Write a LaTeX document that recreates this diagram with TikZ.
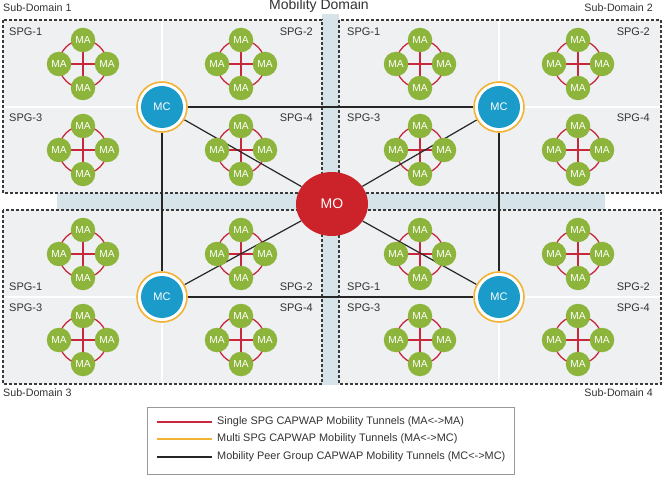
\documentclass[tikz,border=0pt]{standalone}
\usepackage{fontspec}
\setmainfont{Liberation Sans}
\usetikzlibrary{shapes.geometric}
\definecolor{magreen}{HTML}{8DB53C}
\definecolor{tunred}{HTML}{C8283C}
\definecolor{mcblue}{HTML}{1A9BC9}
\definecolor{ringorange}{HTML}{F2B234}
\definecolor{mored}{HTML}{CC2229}
\definecolor{sdgray}{HTML}{EEF0F2}
\definecolor{bandblue}{HTML}{D6E3E8}
\definecolor{txtgray}{HTML}{333333}
\definecolor{dashgray}{HTML}{3A3A3A}
\pgfdeclarelayer{back}
\pgfdeclarelayer{redl}
\pgfdeclarelayer{blackl}
\pgfsetlayers{back,redl,blackl,main}
\newcommand{\macl}[3]{%
  \coordinate (#1c) at ({#2},{#3});
  \node[ma] (#1t) at ({#2},{#3-24}) {MA};
  \node[ma] (#1l) at ({#2-24},{#3}) {MA};
  \node[ma] (#1b) at ({#2},{#3+24}) {MA};
  \node[ma] (#1r) at ({#2+24},{#3}) {MA};
  \begin{pgfonlayer}{redl}
    \draw[redtun] (#1t) -- (#1b);
    \draw[redtun] (#1l) -- (#1r);
    \draw[redtun] (#1c) circle (24pt);
  \end{pgfonlayer}}
\begin{document}
\begin{tikzpicture}[x=1pt,y=-1pt,
  ma/.style={circle,fill=magreen,minimum size=24.5pt,inner sep=0pt,text=white,font=\fontsize{10.2}{10}\selectfont},
  mc/.style={circle,minimum size=50pt,inner sep=0pt,draw=ringorange,line width=1.6pt,fill=white,text=white,
    font=\fontsize{11}{11}\selectfont,
    path picture={\fill[mcblue] (path picture bounding box.center) circle (21pt);}},
  mo/.style={ellipse,fill=mored,minimum width=72pt,minimum height=64pt,inner sep=0pt,text=white,font=\fontsize{14}{14}\selectfont},
  redtun/.style={draw=tunred,line width=1.3pt},
  blacktun/.style={draw=black!85,line width=1.2pt},
  sdbox/.style={fill=sdgray,draw=dashgray,line width=1.3pt,dash pattern=on 3pt off 2pt},
  divider/.style={draw=white,line width=1.5pt},
  spg/.style={text=txtgray,font=\fontsize{11}{11}\selectfont,inner sep=0pt},
  sdlabel/.style={text=txtgray,font=\fontsize{10.7}{10.7}\selectfont,inner sep=0pt},
  legtext/.style={text=txtgray,font=\fontsize{10.9}{10.9}\selectfont,inner sep=0pt,anchor=west}
]
\useasboundingbox (0,0) rectangle (666,486);

\begin{pgfonlayer}{back}
  \fill[white] (0,0) rectangle (666,486);
  % blue cross bands
  \fill[bandblue] (57,193) rectangle (605,210);
  \fill[bandblue] (322,14) rectangle (339,385);
  % sub-domain boxes
  \path[sdbox] (3,20) rectangle (322,193);
  \path[sdbox] (339,20) rectangle (661,193);
  \path[sdbox] (3,210) rectangle (322,384);
  \path[sdbox] (339,210) rectangle (661,384);
  % SPG dividers
  \draw[divider] (4,107) -- (321,107);
  \draw[divider] (162,21) -- (162,192);
  \draw[divider] (340,107) -- (660,107);
  \draw[divider] (499,21) -- (499,192);
  \draw[divider] (4,297) -- (321,297);
  \draw[divider] (162,211) -- (162,383);
  \draw[divider] (340,297) -- (660,297);
  \draw[divider] (499,211) -- (499,383);
\end{pgfonlayer}

% titles
\node[text=txtgray,font=\fontsize{14}{14}\selectfont,inner sep=0pt] (title) at (319,6) {Mobility Domain};
\node[sdlabel,anchor=west] (sd1) at (3,8) {Sub-Domain 1};
\node[sdlabel,anchor=east] (sd2) at (653,8) {Sub-Domain 2};
\node[sdlabel,anchor=west] (sd3) at (3,393) {Sub-Domain 3};
\node[sdlabel,anchor=east] (sd4) at (653,393) {Sub-Domain 4};

% SPG labels
\node[spg,anchor=west] (a1) at (9,32) {SPG-1};
\node[spg,anchor=east] (a2) at (313,32) {SPG-2};
\node[spg,anchor=west] (a3) at (9,118) {SPG-3};
\node[spg,anchor=east] (a4) at (313,118) {SPG-4};
\node[spg,anchor=west] (b1) at (347,32) {SPG-1};
\node[spg,anchor=east] (b2) at (650,32) {SPG-2};
\node[spg,anchor=west] (b3) at (347,118) {SPG-3};
\node[spg,anchor=east] (b4) at (650,118) {SPG-4};
\node[spg,anchor=west] (c1) at (9,287) {SPG-1};
\node[spg,anchor=east] (c2) at (313,287) {SPG-2};
\node[spg,anchor=west] (c3) at (9,308) {SPG-3};
\node[spg,anchor=east] (c4) at (313,308) {SPG-4};
\node[spg,anchor=west] (d1) at (347,287) {SPG-1};
\node[spg,anchor=east] (d2) at (650,287) {SPG-2};
\node[spg,anchor=west] (d3) at (347,308) {SPG-3};
\node[spg,anchor=east] (d4) at (650,308) {SPG-4};

% MA clusters
\macl{aA}{83}{64}
\macl{aB}{241}{64}
\macl{aC}{83}{150}
\macl{aD}{241}{150}
\macl{bA}{420}{64}
\macl{bB}{578}{64}
\macl{bC}{420}{150}
\macl{bD}{578}{150}
\macl{cA}{83}{254}
\macl{cB}{241}{254}
\macl{cC}{83}{340}
\macl{cD}{241}{340}
\macl{dA}{420}{254}
\macl{dB}{578}{254}
\macl{dC}{420}{340}
\macl{dD}{578}{340}

% controllers and oracle
\node[mc] (mc1) at (162,107) {MC};
\node[mc] (mc2) at (499,107) {MC};
\node[mc] (mc3) at (162,297) {MC};
\node[mc] (mc4) at (499,297) {MC};
\node[mo] (mo) at (332,204) {MO};

\begin{pgfonlayer}{blackl}
  \draw[blacktun] (mc1) -- (mc2);
  \draw[blacktun] (mc3) -- (mc4);
  \draw[blacktun] (mc1) -- (mc3);
  \draw[blacktun] (mc2) -- (mc4);
  \draw[blacktun] (mc1) -- (mo);
  \draw[blacktun] (mc2) -- (mo);
  \draw[blacktun] (mc3) -- (mo);
  \draw[blacktun] (mc4) -- (mo);
\end{pgfonlayer}

% legend
\node[draw=black!40,line width=0.8pt,minimum width=367pt,minimum height=67pt,inner sep=0pt] (legend) at (330.5,440.5) {};
\coordinate (l1a) at (157,422); \coordinate (l1b) at (212,422);
\coordinate (l2a) at (157,439); \coordinate (l2b) at (212,439);
\coordinate (l3a) at (157,457); \coordinate (l3b) at (212,457);
\draw[draw=tunred,line width=1.8pt] (l1a) -- (l1b);
\draw[draw=ringorange,line width=1.8pt] (l2a) -- (l2b);
\draw[draw=black!85,line width=1.8pt] (l3a) -- (l3b);
\node[legtext] (t1) at (217,422) {Single SPG CAPWAP Mobility Tunnels (MA<->MA)};
\node[legtext] (t2) at (217,439) {Multi SPG CAPWAP Mobility Tunnels (MA<->MC)};
\node[legtext] (t3) at (217,457) {Mobility Peer Group CAPWAP Mobility Tunnels (MC<->MC)};
\end{tikzpicture}
\end{document}
